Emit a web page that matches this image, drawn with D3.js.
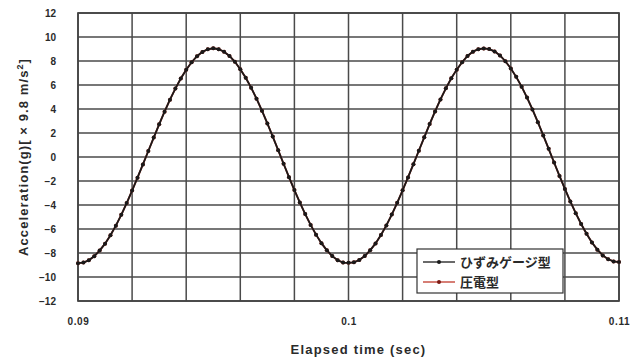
<!DOCTYPE html>
<html>
<head>
<meta charset="utf-8">
<script src="https://cdn.jsdelivr.net/npm/d3@7"></script>
<style>
  html, body { margin: 0; padding: 0; background: #fff; }
  svg { display: block; }
  text { font-family: "Liberation Sans", Arial, sans-serif; font-weight: bold; fill: #2a2a2a; }
  .jp { font-family: "Noto Sans CJK JP", sans-serif; }
</style>
</head>
<body>
<svg id="chart" width="641" height="360"></svg>
<script>
// Sample times: 0.09 s to 0.11 s, every 0.0002 s
const startTime = 0.09;
const sampleStep = 0.0002;

// Strain-gauge accelerometer readings, in g
const strainGauge = [
  -8.85, -8.80, -8.60, -8.27, -7.80, -7.22, -6.52, -5.72, -4.82, -3.84,
  -2.80, -1.72, -0.62, 0.50, 1.62, 2.72, 3.78, 4.78, 5.70, 6.54,
  7.27, 7.90, 8.40, 8.76, 8.98, 9.06, 8.98, 8.77, 8.42, 7.93,
  7.32, 6.60, 5.78, 4.86, 3.86, 2.80, 1.70, 0.57, -0.56, -1.68,
  -2.76, -3.79, -4.76, -5.66, -6.47, -7.18, -7.78, -8.26, -8.60, -8.80,
  -8.82, -8.78, -8.58, -8.25, -7.78, -7.20, -6.50, -5.70, -4.80, -3.82,
  -2.78, -1.70, -0.60, 0.52, 1.64, 2.74, 3.80, 4.80, 5.72, 6.56,
  7.28, 7.90, 8.42, 8.78, 8.98, 9.05, 8.99, 8.80, 8.46, 7.98,
  7.38, 6.68, 5.86, 4.95, 3.96, 2.90, 1.80, 0.68, -0.46, -1.58,
  -2.66, -3.70, -4.68, -5.58, -6.40, -7.12, -7.72, -8.20, -8.52, -8.70,
  -8.76
];

// Piezoelectric accelerometer readings, in g (coincide with the strain gauge trace)
const piezo = [
  -8.85, -8.80, -8.60, -8.27, -7.80, -7.22, -6.52, -5.72, -4.82, -3.84,
  -2.80, -1.72, -0.62, 0.50, 1.62, 2.72, 3.78, 4.78, 5.70, 6.54,
  7.27, 7.90, 8.40, 8.76, 8.98, 9.06, 8.98, 8.77, 8.42, 7.93,
  7.32, 6.60, 5.78, 4.86, 3.86, 2.80, 1.70, 0.57, -0.56, -1.68,
  -2.76, -3.79, -4.76, -5.66, -6.47, -7.18, -7.78, -8.26, -8.60, -8.80,
  -8.82, -8.78, -8.58, -8.25, -7.78, -7.20, -6.50, -5.70, -4.80, -3.82,
  -2.78, -1.70, -0.60, 0.52, 1.64, 2.74, 3.80, 4.80, 5.72, 6.56,
  7.28, 7.90, 8.42, 8.78, 8.98, 9.05, 8.99, 8.80, 8.46, 7.98,
  7.38, 6.68, 5.86, 4.95, 3.96, 2.90, 1.80, 0.68, -0.46, -1.58,
  -2.66, -3.70, -4.68, -5.58, -6.40, -7.12, -7.72, -8.20, -8.52, -8.70,
  -8.76
];

const seriesNames = ["ひずみゲージ型", "圧電型"];
const seriesColors = ["#1a1a1a", "#c0392b"];

const xLabelTicks = [0.09, 0.1, 0.11];
const xGridTicks = [0.09, 0.092, 0.094, 0.096, 0.098, 0.1, 0.102, 0.104, 0.106, 0.108, 0.11];
const yTicks = [-12, -10, -8, -6, -4, -2, 0, 2, 4, 6, 8, 10, 12];

const svg = d3.select("#chart");
const plot = { left: 78, right: 619, top: 13, bottom: 301 };

const x = d3.scaleLinear().domain([0.09, 0.11]).range([plot.left, plot.right]);
const y = d3.scaleLinear().domain([-12, 12]).range([plot.bottom, plot.top]);

// Grid
const grid = svg.append("g").attr("stroke", "#4a4a4a").attr("stroke-width", 1.5);
grid.selectAll("line.h").data(yTicks).join("line")
  .attr("x1", plot.left).attr("x2", plot.right)
  .attr("y1", d => y(d)).attr("y2", d => y(d));
grid.selectAll("line.v").data(xGridTicks).join("line")
  .attr("class", "v")
  .attr("y1", plot.top).attr("y2", plot.bottom)
  .attr("x1", d => x(d)).attr("x2", d => x(d));
svg.append("rect")
  .attr("x", plot.left).attr("y", plot.top)
  .attr("width", plot.right - plot.left).attr("height", plot.bottom - plot.top)
  .attr("fill", "none").attr("stroke", "#444").attr("stroke-width", 1.7);

// Y axis labels
const yAxis = svg.append("g").attr("transform", `translate(${plot.left - 22},0)`)
  .call(d3.axisLeft(y).tickValues(yTicks).tickSize(0).tickPadding(0).tickFormat(d3.format("d")));
yAxis.select(".domain").remove();
yAxis.selectAll("text").attr("font-size", 10).attr("font-family", "Liberation Sans, Arial, sans-serif")
  .attr("font-weight", "bold").attr("fill", "#2a2a2a");

// X axis labels
const xAxis = svg.append("g").attr("transform", `translate(0,${plot.bottom + 17})`)
  .call(d3.axisBottom(x).tickValues(xLabelTicks).tickSize(0).tickPadding(0)
    .tickFormat(d => d3.format("")(+d.toFixed(3))));
xAxis.select(".domain").remove();
xAxis.selectAll("text").attr("font-size", 10).attr("letter-spacing", 0.6)
  .attr("font-family", "Liberation Sans, Arial, sans-serif")
  .attr("font-weight", "bold").attr("fill", "#2a2a2a");

// Axis titles
svg.append("text")
  .attr("x", (plot.left + plot.right) / 2 + 10).attr("y", 354)
  .attr("text-anchor", "middle").attr("font-size", 13).attr("letter-spacing", 1.2)
  .text("Elapsed time (sec)");
svg.append("text")
  .attr("transform", `translate(28,${(plot.top + plot.bottom) / 2})  rotate(-90)`)
  .attr("text-anchor", "middle").attr("font-size", 13).attr("letter-spacing", 1.1)
  .html("Acceleration(g)[ × 9.8 m/s<tspan dy='-5' font-size='9'>2</tspan><tspan dy='5'>]</tspan>");

// Series
const toPoints = vals => vals.map((v, i) => ({ t: startTime + i * sampleStep, v }));
const line = d3.line().x(d => x(d.t)).y(d => y(d.v));
const series = [
  { name: seriesNames[1], color: seriesColors[1], pts: toPoints(piezo) },
  { name: seriesNames[0], color: seriesColors[0], pts: toPoints(strainGauge) }
];

series.forEach(s => {
  const g = svg.append("g");
  g.append("path").datum(s.pts)
    .attr("d", line).attr("fill", "none")
    .attr("stroke", s.color).attr("stroke-width", 1.8);
  g.selectAll("circle").data(s.pts).join("circle")
    .attr("cx", d => x(d.t)).attr("cy", d => y(d.v)).attr("r", 2)
    .attr("fill", s.color);
});

// Legend
const lg = svg.append("g").attr("transform", "translate(417,249)");
lg.append("rect").attr("width", 146).attr("height", 44)
  .attr("fill", "#fff").attr("stroke", "#333").attr("stroke-width", 1.2);
[0, 1].forEach(i => {
  const yy = 13 + i * 20;
  lg.append("line").attr("x1", 6).attr("x2", 38).attr("y1", yy).attr("y2", yy)
    .attr("stroke", seriesColors[i]).attr("stroke-width", 1.3);
  lg.append("circle").attr("cx", 22).attr("cy", yy).attr("r", 2)
    .attr("fill", i === 0 ? "#1a1a1a" : "#7a1a14");
  lg.append("text").attr("class", "jp").attr("x", 43).attr("y", yy + 4.5)
    .attr("font-size", 13).attr("font-weight", "bold")
    .text(seriesNames[i]);
});
</script>
</body>
</html>
